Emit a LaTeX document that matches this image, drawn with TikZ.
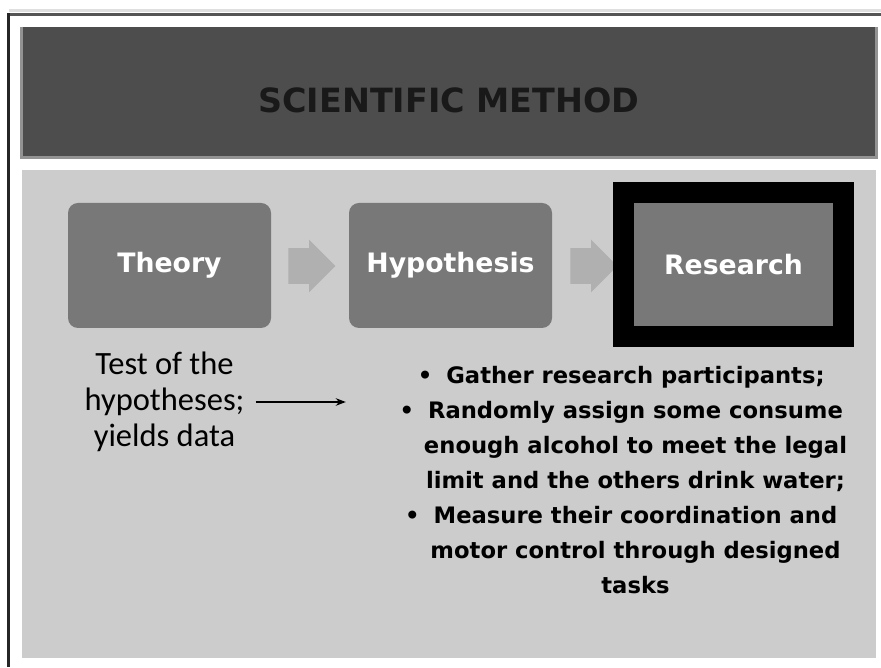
\documentclass[tikz,border=0pt]{standalone}
\usepackage{fontspec}
\usepackage{tikz}
\usetikzlibrary{shapes.arrows,arrows.meta}
\setmainfont{DejaVu Sans}
\newfontfamily\calibri{Carlito}

\definecolor{titlegray}{HTML}{4D4D4D}
\definecolor{panelgray}{HTML}{CCCCCC}
\definecolor{boxgray}{HTML}{787878}
\definecolor{chevgray}{HTML}{B0B0B0}
\definecolor{framegray}{HTML}{555555}

\begin{document}
\begin{tikzpicture}[
    stagebox/.style={fill=boxgray, minimum width=4.06cm, minimum height=2.5cm, text=white,
        font=\bfseries\fontsize{15.2}{18}\selectfont},
    flowarrow/.style={single arrow, fill=chevgray, inner sep=0pt, text height=0.35cm,
        text depth=0.35cm, minimum height=0.94cm, single arrow head extend=0.17cm}
]
    \useasboundingbox (0,0) rectangle (17.62,13.34);
    \draw[gray!25, line width=0.06cm] (0.18,13.12) -- (17.62,13.12);
    \draw[framegray, line width=0.06cm] (0.18,13.04) -- (17.62,13.04);
    \draw[black!85, line width=0.06cm] (0.18,0) -- (0.18,13.07);
    \node[fill=titlegray, minimum width=17.08cm, minimum height=2.6cm] (header) at (8.98,11.5) {};
    \draw[gray!85, line width=0.06cm] (header.north west) -- (header.south west) -- (header.south east) -- (header.north east);
    \node[font=\bfseries\fontsize{19}{22}\selectfont, text=black!90] (title) at (8.98,11.34) {SCIENTIFIC METHOD};
    \fill[panelgray] (0.44,0.18) rectangle (17.52,9.94);

    \node[stagebox, rounded corners=0.2cm] (theory) at (3.39,8.03) {Theory};
    \node[stagebox, rounded corners=0.2cm] (hypothesis) at (9.01,8.03) {Hypothesis};
    \node[flowarrow] (arrowa) at (6.06,8.02) {};
    \node[flowarrow] (arrowb) at (11.70,8.02) {};
    \node[stagebox, draw=black, line width=0.42cm, minimum width=4.4cm, minimum height=2.88cm] (research) at (14.67,8.05) {Research};

    \node[font=\calibri\fontsize{18.5}{20.5}\selectfont, align=center] (test) at (3.29,5.3) {Test of the\\hypotheses;\\yields data};
    \node[font=\bfseries\fontsize{12.9}{19.9}\selectfont, align=center] (steps) at (12.71,3.74)
        {\llap{\textbullet\hspace{0.28cm}}Gather research participants;\\
         \llap{\textbullet\hspace{0.28cm}}Randomly assign some consume\\
         enough alcohol to meet the legal\\
         limit and the others drink water;\\
         \llap{\textbullet\hspace{0.28cm}}Measure their coordination and\\
         motor control through designed\\
         tasks};
    \draw[-{Stealth[length=0.2cm]}, line width=0.04cm, shorten <=0.1cm, shorten >=1.44cm] (test.east) -- (test.east -| steps.west);
\end{tikzpicture}
\end{document}
